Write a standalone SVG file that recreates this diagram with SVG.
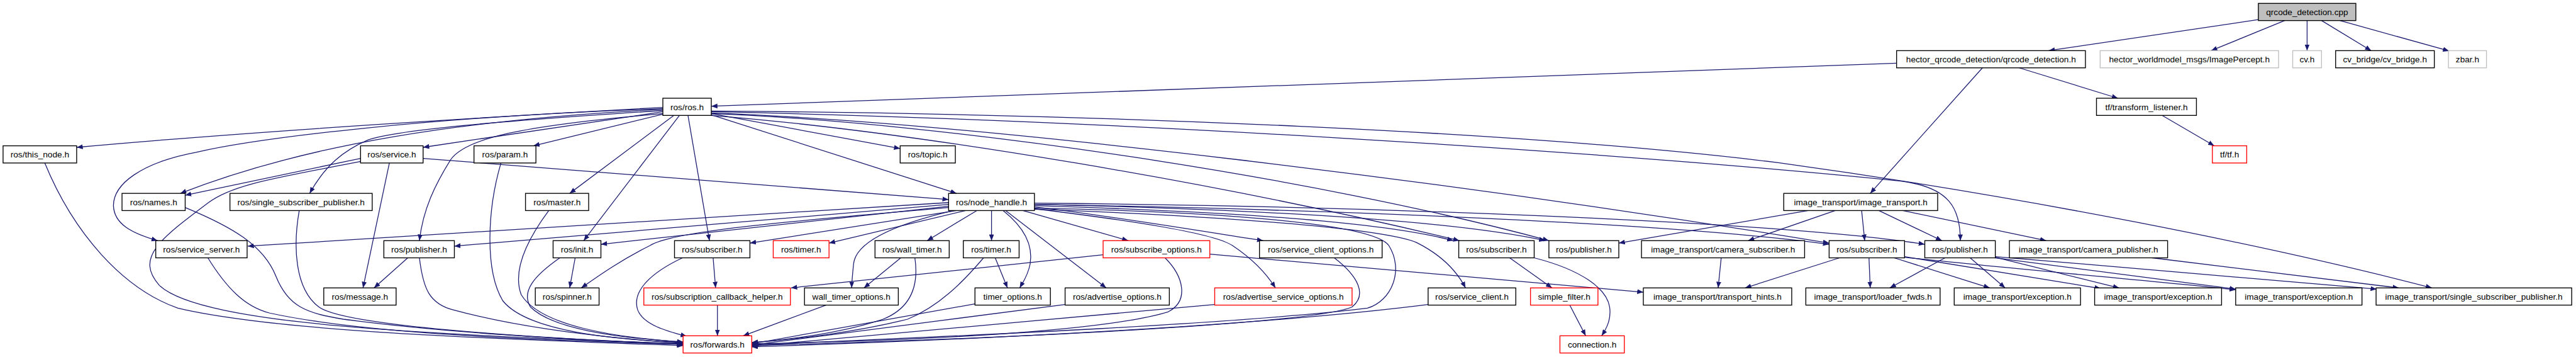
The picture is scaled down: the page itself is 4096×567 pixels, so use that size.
<svg xmlns="http://www.w3.org/2000/svg" width="4096" height="567" viewBox="0 0 4096 567">
<defs>
<style>
.e{fill:none;stroke:#191970;stroke-width:1.3;marker-end:url(#a)}
.n rect{fill:#fff;stroke:#000;stroke-width:1.4}
.n.r rect{stroke:#ff0000}
.n.g rect{stroke:#bfbfbf}
.n.root rect{fill:#bfbfbf}
text{font-family:"Liberation Sans",Arial,sans-serif;font-size:14px;fill:#000;text-anchor:middle}
</style>
<marker id="a" markerWidth="10" markerHeight="8" refX="10" refY="4" orient="auto" markerUnits="userSpaceOnUse"><path d="M0,0 L10,4 L0,8 z" fill="#191970"/></marker>
</defs>
<rect width="4096" height="567" fill="#fff"/>
<g transform="scale(0.975)">
<g id="edges">
<path class="e" d="M3683,32 L3341,82.5"/>
<path class="e" d="M3726,33.5 L3606,82.5"/>
<path class="e" d="M3762.5,33.5 L3762.5,82.5"/>
<path class="e" d="M3786,33.5 L3867,82.5"/>
<path class="e" d="M3816,33.5 L3994,83"/>
<path class="e" d="M3093,103 L1160,173"/>
<path class="e" d="M3233,110.5 L3050,315"/>
<path class="e" d="M3293,110.5 L3454,160"/>
<path class="e" d="M3526,188 L3611,237.5"/>
<path class="e" d="M1081,175 C800,190 400,215 125,240"/>
<path class="e" d="M1081,178 C750,195 500,235 294,315"/>
<path class="e" d="M1081,177 C700,190 420,225 320,248 C230,265 185,300 185,335 C186,365 215,380 257,392"/>
<path class="e" d="M1081,180 C850,195 650,210 600,228 C560,245 530,270 505,315"/>
<path class="e" d="M1081,182 L690,240"/>
<path class="e" d="M1081,185 C850,205 760,225 735,260 C710,300 690,340 684,392"/>
<path class="e" d="M1081,186 L870,237.5"/>
<path class="e" d="M1099,188 L929,315"/>
<path class="e" d="M1108,188 L952,392"/>
<path class="e" d="M1122,188 L1157,392"/>
<path class="e" d="M1160,185 L1468,242"/>
<path class="e" d="M1160,187 L1560,315"/>
<path class="e" d="M1160,188 C1500,215 2000,300 2380,392"/>
<path class="e" d="M1160,185 C1550,200 2150,290 2526,392"/>
<path class="e" d="M1160,184 C1600,200 2400,300 2983,396"/>
<path class="e" d="M1160,182 C1800,195 2600,245 3100,295 C3180,305 3197,340 3197,392"/>
<path class="e" d="M1160,181 C1800,185 2500,215 2900,265 C3300,320 3700,400 3966,469"/>
<path class="e" d="M1547,330 L404,401"/>
<path class="e" d="M1547,333 L741,401"/>
<path class="e" d="M1547,336 L980,398"/>
<path class="e" d="M1560,343 L1223,396"/>
<path class="e" d="M1575,343 L1352,396"/>
<path class="e" d="M1547,338 C1300,360 1100,375 1060,400 C1010,425 975,450 948,469"/>
<path class="e" d="M1593,343 L1512,392"/>
<path class="e" d="M1617,343 L1617,392"/>
<path class="e" d="M1555,343 C1440,370 1395,400 1392,430 C1390,450 1389,460 1389,469"/>
<path class="e" d="M1636,343 C1670,370 1685,400 1680,430 C1676,450 1668,460 1663,469"/>
<path class="e" d="M1640,343 L1804,469"/>
<path class="e" d="M1668,343 L1840,392"/>
<path class="e" d="M1687,337 C1800,350 1950,375 2060,392"/>
<path class="e" d="M1687,340 C1850,360 1980,380 2010,400 C2040,420 2065,445 2080,469"/>
<path class="e" d="M1687,341 C1950,350 2250,370 2310,395 C2350,415 2375,440 2390,469"/>
<path class="e" d="M1687,339 C2000,345 2240,365 2265,400 C2290,440 2270,490 2230,502 C2000,530 1500,550 1227,562"/>
<path class="e" d="M1687,335 C2000,345 2250,360 2370,392"/>
<path class="e" d="M1687,333 C2000,340 2350,355 2520,392"/>
<path class="e" d="M1687,333 C2100,340 2700,360 2983,398"/>
<path class="e" d="M1687,331 C2200,335 2900,360 3139,398"/>
<path class="e" d="M588,258 L302,318"/>
<path class="e" d="M588,263 C450,290 380,300 340,330 C260,390 220,420 260,465 C330,530 700,545 1114,560"/>
<path class="e" d="M635,265.5 L592,469"/>
<path class="e" d="M690,258 L1547,325"/>
<path class="e" d="M73,265.5 C120,380 200,470 290,502 C450,540 800,552 1114,563"/>
<path class="e" d="M302,338 C380,370 430,400 450,450 C470,500 500,510 560,520 C750,545 950,553 1114,561"/>
<path class="e" d="M488,343 C478,400 480,470 520,500 C560,530 850,550 1114,561"/>
<path class="e" d="M339,420 C370,470 400,500 440,510 C600,545 900,555 1114,561"/>
<path class="e" d="M665,420 L610,469"/>
<path class="e" d="M684,420 C690,470 700,495 740,505 C850,535 1000,552 1114,559"/>
<path class="e" d="M817,265.5 C795,340 790,440 820,490 C860,540 1000,553 1114,558"/>
<path class="e" d="M895,343 C860,390 835,440 850,480 C880,530 1000,550 1114,557"/>
<path class="e" d="M938,420 L929,469"/>
<path class="e" d="M913,420 C870,450 850,475 865,500 C900,535 1000,550 1114,557"/>
<path class="e" d="M1163,420 L1167,469"/>
<path class="e" d="M1113,420 C1060,445 1030,475 1040,505 C1050,530 1090,540 1120,548"/>
<path class="e" d="M1170,497 L1170,547"/>
<path class="e" d="M1347,497 L1212,547"/>
<path class="e" d="M1469,420 L1409,469"/>
<path class="e" d="M1492,420 C1498,460 1490,500 1440,520 C1380,540 1300,552 1226,558"/>
<path class="e" d="M1623,420 L1643,469"/>
<path class="e" d="M1604,420 C1570,460 1530,500 1480,520 C1400,540 1300,553 1226,558"/>
<path class="e" d="M1799,415 L1290,469"/>
<path class="e" d="M1900,420 C1930,450 1940,490 1905,508 C1800,540 1500,555 1226,560"/>
<path class="e" d="M1973,414 L2680,476"/>
<path class="e" d="M1590,495 L1226,560"/>
<path class="e" d="M1737,496 L1226,562"/>
<path class="e" d="M1981,496 L1226,564"/>
<path class="e" d="M2176,420 C2215,450 2230,480 2205,500 C2150,525 1700,550 1226,563"/>
<path class="e" d="M2329,496 C2100,525 1700,550 1226,565"/>
<path class="e" d="M2462,420 L2531,469"/>
<path class="e" d="M2502,420 C2580,440 2620,470 2625,500 C2628,520 2620,535 2612,547"/>
<path class="e" d="M2560,497 L2586,547"/>
<path class="e" d="M2949,343 L2640,396"/>
<path class="e" d="M2993,343 L2851,392"/>
<path class="e" d="M3036,343 L3041,392"/>
<path class="e" d="M3064,343 L3167,392"/>
<path class="e" d="M3103,343 L3337,392"/>
<path class="e" d="M2807,420 L2802,469"/>
<path class="e" d="M3000,420 L2846,469"/>
<path class="e" d="M3048,420 L3050,469"/>
<path class="e" d="M3089,420 L3245,469"/>
<path class="e" d="M3106,418 L3426,470"/>
<path class="e" d="M3106,419 C3300,440 3520,458 3646,472"/>
<path class="e" d="M3172,420 L3082,469"/>
<path class="e" d="M3213,420 L3270,469"/>
<path class="e" d="M3254,419 L3456,469"/>
<path class="e" d="M3254,420 C3400,440 3550,458 3646,471"/>
<path class="e" d="M3254,418 C3450,435 3700,455 3876,471"/>
<path class="e" d="M3510,420 L3912,469"/>
</g>
<g id="n-cpp" class="n root"><rect x="3683" y="5.5" width="159" height="28"/><text x="3762.5" y="24.5">qrcode_detection.cpp</text></g>
<g id="n-hq" class="n"><rect x="3093" y="82.5" width="308" height="28"/><text x="3247" y="101.5">hector_qrcode_detection/qrcode_detection.h</text></g>
<g id="n-ip" class="n g"><rect x="3425" y="82.5" width="291" height="28"/><text x="3570.5" y="101.5">hector_worldmodel_msgs/ImagePercept.h</text></g>
<g id="n-cvh" class="n g"><rect x="3739" y="82.5" width="47" height="28"/><text x="3762.5" y="101.5">cv.h</text></g>
<g id="n-cvb" class="n"><rect x="3809" y="82.5" width="161" height="28"/><text x="3889.5" y="101.5">cv_bridge/cv_bridge.h</text></g>
<g id="n-zbar" class="n g"><rect x="3993" y="82.5" width="62" height="28"/><text x="4024" y="101.5">zbar.h</text></g>
<g id="n-ros" class="n"><rect x="1081" y="160" width="79" height="28"/><text x="1120.5" y="179">ros/ros.h</text></g>
<g id="n-tfl" class="n"><rect x="3419" y="160" width="163" height="28"/><text x="3500.5" y="179">tf/transform_listener.h</text></g>
<g id="n-thisnode" class="n"><rect x="5" y="237.5" width="120" height="28"/><text x="65" y="256.5">ros/this_node.h</text></g>
<g id="n-service" class="n"><rect x="588" y="237.5" width="102" height="28"/><text x="639" y="256.5">ros/service.h</text></g>
<g id="n-param" class="n"><rect x="773" y="237.5" width="101" height="28"/><text x="823.5" y="256.5">ros/param.h</text></g>
<g id="n-topic" class="n"><rect x="1468" y="237.5" width="90" height="28"/><text x="1513" y="256.5">ros/topic.h</text></g>
<g id="n-tf" class="n r"><rect x="3608" y="237.5" width="56" height="28"/><text x="3636" y="256.5">tf/tf.h</text></g>
<g id="n-names" class="n"><rect x="199" y="315" width="103" height="28"/><text x="250.5" y="334">ros/names.h</text></g>
<g id="n-ssp" class="n"><rect x="375" y="315" width="232" height="28"/><text x="491" y="334">ros/single_subscriber_publisher.h</text></g>
<g id="n-master" class="n"><rect x="857" y="315" width="103" height="28"/><text x="908.5" y="334">ros/master.h</text></g>
<g id="n-nh" class="n"><rect x="1547" y="315" width="140" height="28"/><text x="1617" y="334">ros/node_handle.h</text></g>
<g id="n-it" class="n"><rect x="2909" y="315" width="251" height="28"/><text x="3034.5" y="334">image_transport/image_transport.h</text></g>
<g id="n-ss" class="n"><rect x="254" y="392" width="149" height="28"/><text x="328.5" y="411">ros/service_server.h</text></g>
<g id="n-pubA" class="n"><rect x="626" y="392" width="115" height="28"/><text x="683.5" y="411">ros/publisher.h</text></g>
<g id="n-init" class="n"><rect x="902" y="392" width="78" height="28"/><text x="941" y="411">ros/init.h</text></g>
<g id="n-subA" class="n"><rect x="1100" y="392" width="123" height="28"/><text x="1161.5" y="411">ros/subscriber.h</text></g>
<g id="n-timerR" class="n r"><rect x="1261" y="392" width="91" height="28"/><text x="1306.5" y="411">ros/timer.h</text></g>
<g id="n-wt" class="n"><rect x="1427" y="392" width="121" height="28"/><text x="1487.5" y="411">ros/wall_timer.h</text></g>
<g id="n-timer" class="n"><rect x="1571" y="392" width="91" height="28"/><text x="1616.5" y="411">ros/timer.h</text></g>
<g id="n-so" class="n r"><rect x="1799" y="392" width="174" height="28"/><text x="1886" y="411">ros/subscribe_options.h</text></g>
<g id="n-sco" class="n"><rect x="2054" y="392" width="200" height="28"/><text x="2154" y="411">ros/service_client_options.h</text></g>
<g id="n-subB" class="n"><rect x="2379" y="392" width="123" height="28"/><text x="2440.5" y="411">ros/subscriber.h</text></g>
<g id="n-pubB" class="n"><rect x="2526" y="392" width="114" height="28"/><text x="2583" y="411">ros/publisher.h</text></g>
<g id="n-cs" class="n"><rect x="2677" y="392" width="266" height="28"/><text x="2810" y="411">image_transport/camera_subscriber.h</text></g>
<g id="n-subC" class="n"><rect x="2983" y="392" width="123" height="28"/><text x="3044.5" y="411">ros/subscriber.h</text></g>
<g id="n-pubC" class="n"><rect x="3139" y="392" width="115" height="28"/><text x="3196.5" y="411">ros/publisher.h</text></g>
<g id="n-cp" class="n"><rect x="3277" y="392" width="258" height="28"/><text x="3406" y="411">image_transport/camera_publisher.h</text></g>
<g id="n-msg" class="n"><rect x="528" y="469" width="118" height="28"/><text x="587" y="488">ros/message.h</text></g>
<g id="n-spin" class="n"><rect x="873" y="469" width="104" height="28"/><text x="925" y="488">ros/spinner.h</text></g>
<g id="n-sch" class="n r"><rect x="1050" y="469" width="239" height="28"/><text x="1169.5" y="488">ros/subscription_callback_helper.h</text></g>
<g id="n-wto" class="n"><rect x="1312" y="469" width="153" height="28"/><text x="1388.5" y="488">wall_timer_options.h</text></g>
<g id="n-to" class="n"><rect x="1590" y="469" width="123" height="28"/><text x="1651.5" y="488">timer_options.h</text></g>
<g id="n-ao" class="n"><rect x="1737" y="469" width="170" height="28"/><text x="1822" y="488">ros/advertise_options.h</text></g>
<g id="n-aso" class="n r"><rect x="1981" y="469" width="224" height="28"/><text x="2093" y="488">ros/advertise_service_options.h</text></g>
<g id="n-sc" class="n"><rect x="2329" y="469" width="143" height="28"/><text x="2400.5" y="488">ros/service_client.h</text></g>
<g id="n-sf" class="n r"><rect x="2496" y="469" width="110" height="28"/><text x="2551" y="488">simple_filter.h</text></g>
<g id="n-th" class="n"><rect x="2680" y="469" width="242" height="28"/><text x="2801" y="488">image_transport/transport_hints.h</text></g>
<g id="n-lf" class="n"><rect x="2945" y="469" width="219" height="28"/><text x="3054.5" y="488">image_transport/loader_fwds.h</text></g>
<g id="n-exA" class="n"><rect x="3187" y="469" width="206" height="28"/><text x="3290" y="488">image_transport/exception.h</text></g>
<g id="n-exB" class="n"><rect x="3416" y="469" width="207" height="28"/><text x="3519.5" y="488">image_transport/exception.h</text></g>
<g id="n-exC" class="n"><rect x="3646" y="469" width="206" height="28"/><text x="3749" y="488">image_transport/exception.h</text></g>
<g id="n-itssp" class="n"><rect x="3875" y="469" width="319" height="28"/><text x="4034.5" y="488">image_transport/single_subscriber_publisher.h</text></g>
<g id="n-fw" class="n r"><rect x="1114" y="547" width="112" height="28"/><text x="1170" y="566">ros/forwards.h</text></g>
<g id="n-conn" class="n r"><rect x="2544" y="547" width="105" height="28"/><text x="2596.5" y="566">connection.h</text></g>
</g>
</svg>
